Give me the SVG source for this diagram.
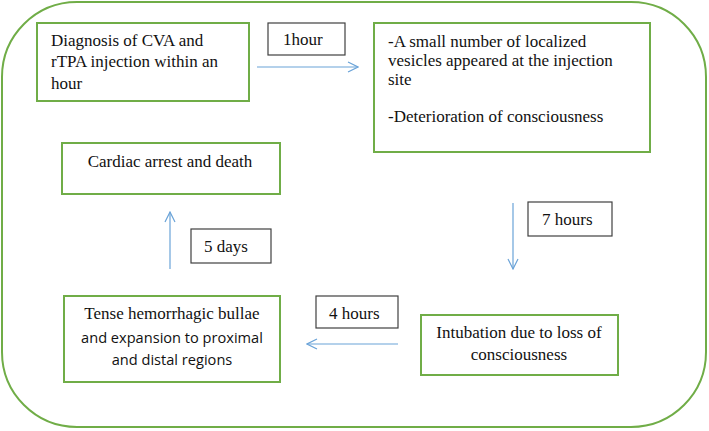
<svg xmlns="http://www.w3.org/2000/svg" width="709" height="431" viewBox="0 0 709 431">
  <defs>
    <style>
      .frame { fill: #ffffff; stroke: #70ad47; stroke-width: 2; }
      .node { fill: #ffffff; stroke: #70ad47; stroke-width: 2; }
      .tag { fill: #ffffff; stroke: #404040; stroke-width: 1.2; }
      .tx { font-family: 'Liberation Serif', 'Times New Roman', serif; font-size: 17px; fill: #111111; }
      .sans { font-family: 'Open Sans', 'Liberation Sans', sans-serif; font-size: 14.6px; fill: #111111; }
      .link { stroke: #6aa3d8; stroke-width: 1.2; fill: none; }
    </style>
    <marker id="chev" viewBox="0 0 12 12" refX="11" refY="6" markerWidth="12" markerHeight="12" markerUnits="userSpaceOnUse" orient="auto">
      <path d="M1,1 L11,6 L1,11" fill="none" stroke="#6aa3d8" stroke-width="1.2"/>
    </marker>
  </defs>

  <rect width="709" height="431" fill="#ffffff"/>
  <!-- outer frame -->
  <rect class="frame" x="2" y="2" width="704" height="425" rx="75" ry="75"/>

  <!-- connectors and their time labels -->
  <g id="connectors">
    <line class="link" x1="257" y1="67" x2="358" y2="67" marker-end="url(#chev)"/>
    <line class="link" x1="513" y1="203" x2="513" y2="269" marker-end="url(#chev)"/>
    <line class="link" x1="398" y1="344" x2="307" y2="344" marker-end="url(#chev)"/>
    <line class="link" x1="170" y1="269" x2="170" y2="212" marker-end="url(#chev)"/>

    <g id="lbl-1hour">
      <rect class="tag" x="268" y="23" width="77" height="32"/>
      <text class="tx" x="283" y="45">1hour</text>
    </g>
    <g id="lbl-7hours">
      <rect class="tag" x="528" y="202" width="84" height="34"/>
      <text class="tx" x="542" y="225">7 hours</text>
    </g>
    <g id="lbl-4hours">
      <rect class="tag" x="316" y="296" width="82" height="32"/>
      <text class="tx" x="329" y="319">4 hours</text>
    </g>
    <g id="lbl-5days">
      <rect class="tag" x="191" y="229" width="80" height="34"/>
      <text class="tx" x="204" y="252">5 days</text>
    </g>
  </g>

  <g id="node-diagnosis">
    <rect class="node" x="37" y="23" width="212" height="78"/>
    <text class="tx" x="51" y="46">Diagnosis of CVA and</text>
    <text class="tx" x="51" y="67">rTPA injection within an</text>
    <text class="tx" x="51" y="89">hour</text>
  </g>

  <g id="node-vesicles">
    <rect class="node" x="374" y="23" width="276" height="129"/>
    <text class="tx" x="388" y="47">-A small number of localized</text>
    <text class="tx" x="388" y="66">vesicles appeared at the injection</text>
    <text class="tx" x="388" y="85">site</text>
    <text class="tx" x="388" y="122">-Deterioration of consciousness</text>
  </g>

  <g id="node-intubation">
    <rect class="node" x="421" y="315" width="197" height="60"/>
    <text class="tx" x="519" y="338" text-anchor="middle">Intubation due to loss of</text>
    <text class="tx" x="519" y="360" text-anchor="middle">consciousness</text>
  </g>

  <g id="node-bullae">
    <rect class="node" x="64" y="296" width="216" height="86"/>
    <text class="tx" x="172" y="319" text-anchor="middle">Tense hemorrhagic bullae</text>
    <text class="sans" x="172" y="343" text-anchor="middle">and expansion to proximal</text>
    <text class="sans" x="172" y="365" text-anchor="middle">and distal regions</text>
  </g>

  <g id="node-death">
    <rect class="node" x="62" y="143" width="218" height="51"/>
    <text class="tx" x="170" y="167" text-anchor="middle">Cardiac arrest and death</text>
  </g>
</svg>
